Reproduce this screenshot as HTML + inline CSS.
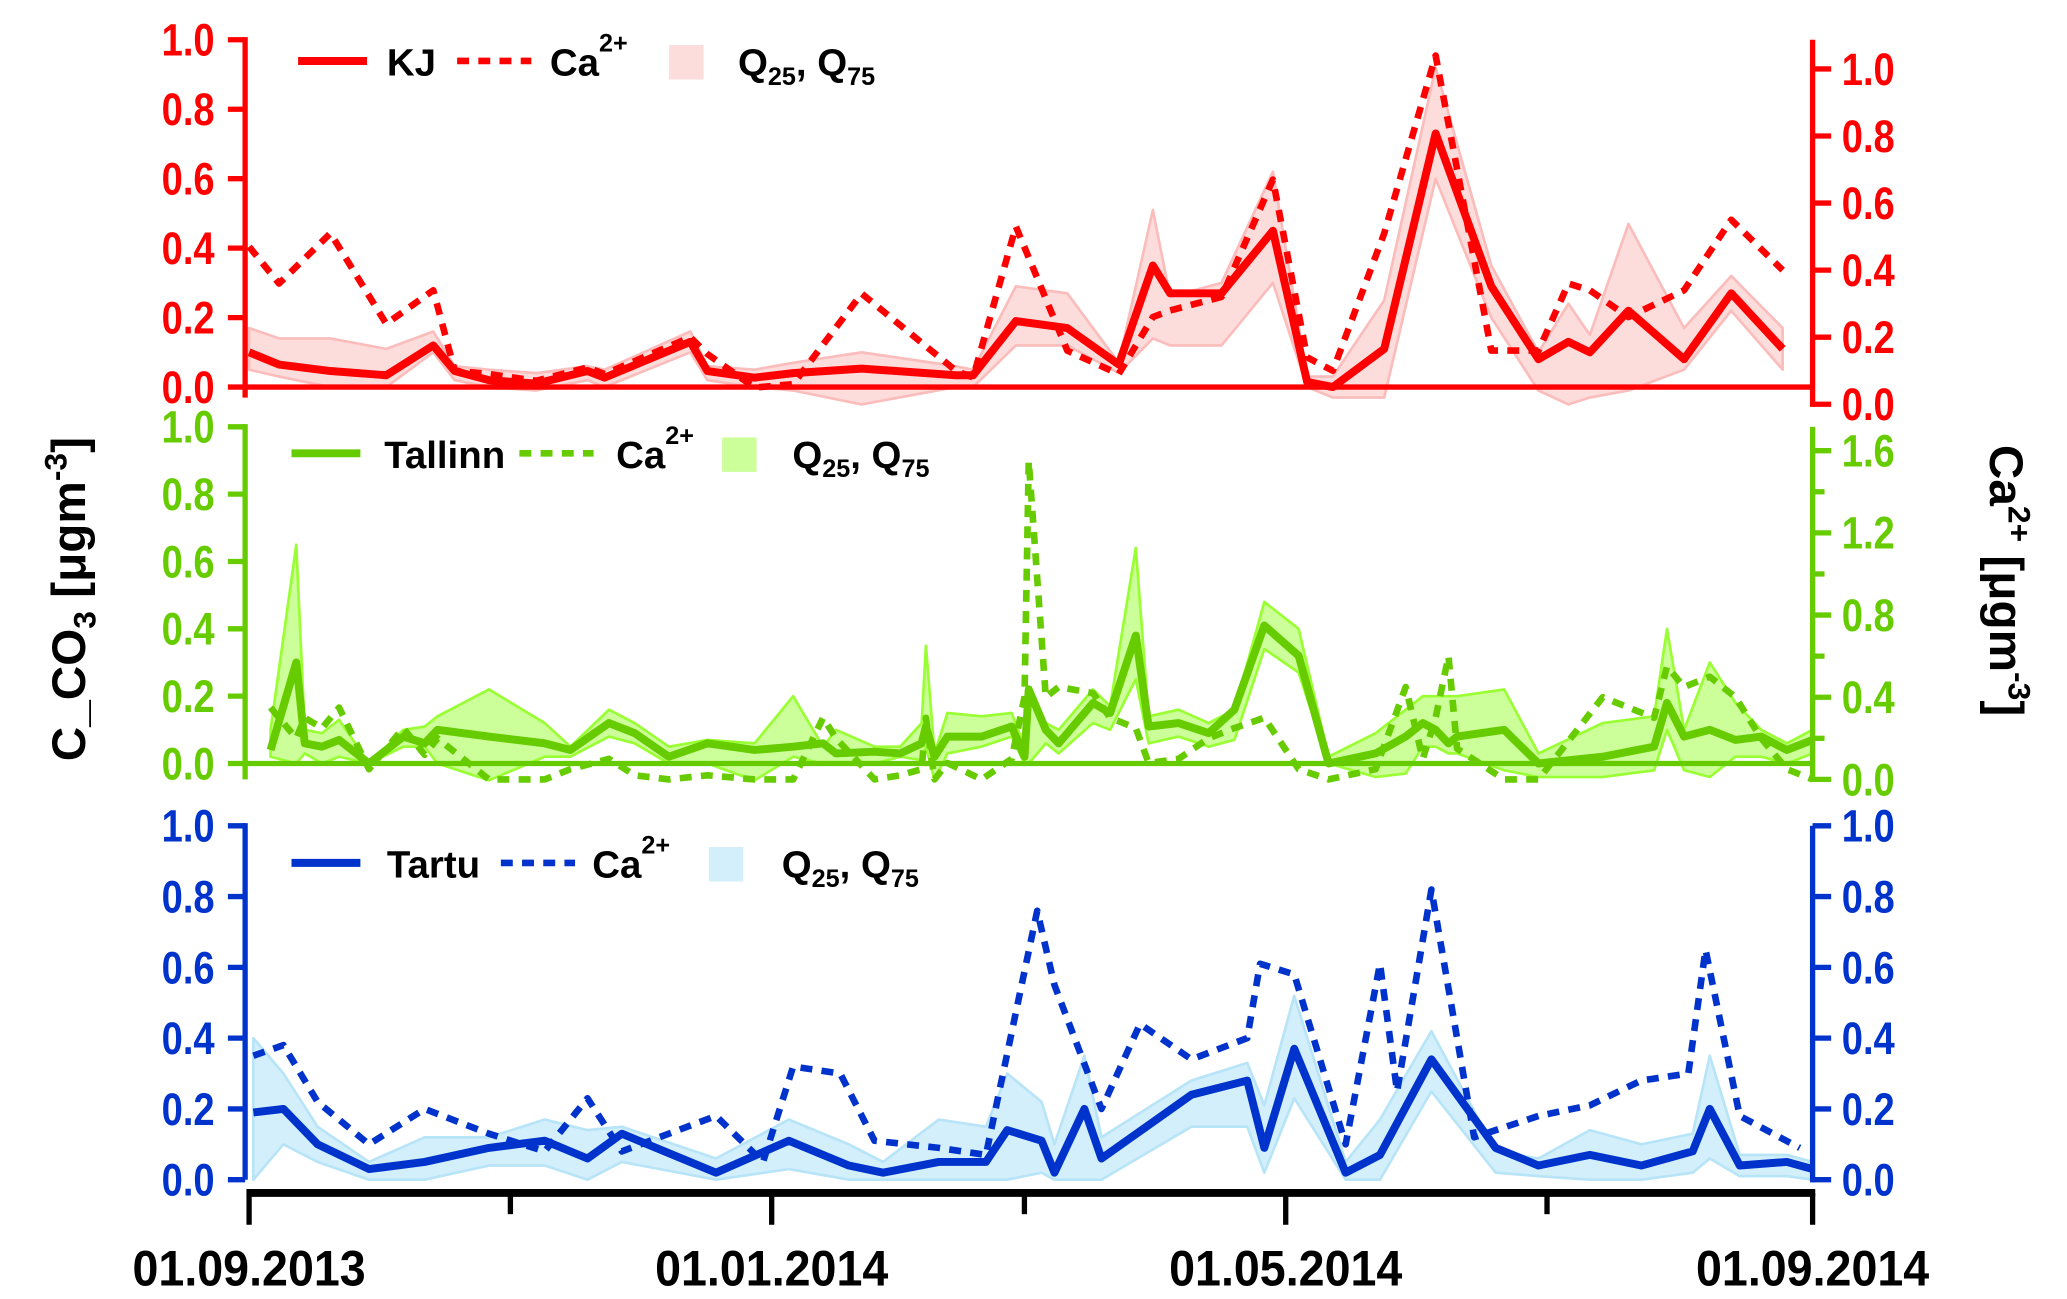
<!DOCTYPE html>
<html><head><meta charset="utf-8">
<style>
html,body{margin:0;padding:0;background:#fff;}
svg{display:block;}
text{font-family:"Liberation Sans Narrow","Liberation Sans",sans-serif;font-weight:bold;}
</style></head>
<body>
<svg id="chart" width="2067" height="1299" viewBox="0 0 1560 980" preserveAspectRatio="none" xmlns="http://www.w3.org/2000/svg"></svg>
<script>
// ---- data (x = days since 01.09.2013) ----
const kjDays = [0,7,19,32,43,48,56,67,79,83,103,107,118,127,143,165,169,179,191,203,211,215,227,239,247,253,265,277,290,301,308,313,322,335,346,358];
const kjC = [.10,.065,.046,.034,.12,.046,.02,.01,.046,.027,.13,.046,.027,.04,.053,.034,.034,.19,.17,.065,.35,.27,.27,.45,.015,0,.11,.73,.29,.08,.13,.10,.22,.08,.27,.11];
const kjCa = [.47,.36,.51,.24,.34,.10,.09,.07,.11,.09,.20,.15,.05,.06,.33,.10,.08,.53,.16,.09,.26,.28,.32,.67,.14,.10,.51,1.04,.16,.16,.36,.34,.26,.34,.55,.40];
const kjQ75 = [.17,.14,.14,.11,.16,.06,.05,.04,.06,.05,.16,.06,.05,.07,.10,.06,.05,.29,.27,.07,.51,.26,.30,.62,.03,.03,.25,.92,.35,.10,.24,.15,.47,.17,.32,.17];
const kjQ25 = [.05,.03,0,0,.10,.02,0,-.01,.02,0,.10,.02,0,-.01,-.05,0,0,.12,.12,.04,.14,.12,.12,.30,0,-.03,-.03,.60,.20,-.01,-.05,-.03,-.01,.05,.22,.05];

const taDays = [5,11,13,17,21,28,36,41,44,56,69,75,84,90,98,107,118,127,134,137,146,152,157,158,160,163,171,178,181,182,186,189,197,201,207,210,217,224,230,237,245,252,263,270,274,277,280,282,293,301,316,328,331,335,341,347,353,359,365];
const taC = [.04,.30,.06,.05,.07,0,.08,.06,.10,.08,.06,.04,.12,.09,.02,.06,.04,.05,.06,.03,.035,.03,.06,.11,.02,.08,.08,.11,.02,.22,.10,.06,.18,.15,.38,.11,.12,.09,.16,.41,.32,0,.03,.08,.12,.10,.06,.08,.10,0,.02,.05,.18,.08,.10,.07,.08,.04,.07];
const taCa = [.35,.2,.3,.25,.35,.05,.25,.12,.2,0,0,.05,.1,.02,0,.02,0,0,.3,.2,0,.02,.05,.3,0,.08,0,.1,.4,1.55,.4,.45,.42,.3,.25,.08,.1,.2,.25,.3,.05,0,.05,.45,.1,.3,.6,.15,0,0,.4,.3,.55,.45,.5,.4,.2,.05,0];
const taQ75 = [.1,.65,.1,.09,.13,0,.1,.11,.14,.22,.12,.05,.16,.12,.05,.07,.06,.2,.05,.1,.05,.05,.12,.35,.03,.15,.14,.15,.05,.2,.12,.1,.22,.17,.64,.14,.16,.12,.16,.48,.4,.02,.09,.16,.2,.2,.2,.2,.22,.03,.12,.14,.4,.1,.3,.18,.1,.06,.1];
const taQ25 = [.02,0,.03,0,.02,0,.05,.05,0,-.05,.02,.02,.08,.06,0,0,-.05,.02,0,0,0,.02,.01,.05,-.05,.03,.05,.08,0,0,.06,.03,.12,.1,.25,.06,.08,.05,.07,.34,.27,0,-.04,-.03,.05,.05,.03,.03,-.02,-.04,-.04,-.02,.1,-.02,-.04,.02,.02,0,.03];

const tuDays = [1,8,16,28,41,56,69,79,87,109,126,140,148,161,172,177,185,188,195,199,220,233,237,244,256,264,276,291,301,313,325,337,341,348,359,365];
const tuC = [.19,.20,.10,.03,.05,.09,.11,.06,.13,.02,.11,.04,.02,.05,.05,.14,.11,.02,.20,.06,.24,.28,.09,.37,.02,.07,.34,.09,.04,.07,.04,.08,.20,.04,.05,.03];
const tuQ75 = [.40,.30,.15,.05,.12,.12,.17,.14,.15,.06,.17,.10,.05,.17,.15,.30,.22,.10,.35,.12,.28,.33,.21,.52,.05,.17,.42,.08,.06,.14,.10,.13,.35,.07,.07,.05];
const tuQ25 = [0,.10,.05,0,0,.04,.04,0,.05,0,.03,0,0,0,0,0,.02,0,0,0,.15,.15,.02,.23,0,0,.25,.02,.01,0,0,.02,.06,.01,.01,0];
const tuCaDays = [1,8,16,28,41,56,69,79,87,109,120,127,138,146,161,172,184,188,199,208,220,233,236,244,256,264,268,276,286,301,313,325,336,340,348,362];
const tuCa = [.35,.38,.22,.10,.20,.13,.08,.23,.08,.18,.05,.32,.30,.11,.09,.07,.76,.55,.20,.44,.34,.40,.61,.58,.10,.61,.25,.82,.12,.18,.21,.28,.30,.65,.18,.09];

const xTickLabels = ["01.09.2013","01.01.2014","01.05.2014","01.09.2014"];
const xTickDays = [0,122,242,365];
const xMinorDays = [61,181,303];

// ---- helpers ----
const NS = "http://www.w3.org/2000/svg";
const svg = document.getElementById("chart");
const X0 = 188, X1 = 1368;
function xs(d){ return X0 + d/365*(X1-X0); }
function mk(tag, attrs, parent){
  const e = document.createElementNS(NS, tag);
  for (const k in attrs) e.setAttribute(k, attrs[k]);
  (parent||svg).appendChild(e);
  return e;
}
function lin(v0,p0,v1,p1){ return v => p0 + (v-v0)/(v1-v0)*(p1-p0); }
function pts(days, vals, ys){ return days.map((d,i)=>xs(d).toFixed(1)+","+ys(vals[i]).toFixed(1)).join(" "); }
function txt(x,y,s,attrs,parent){ const t = mk("text", Object.assign({x:x,y:y}, attrs||{}), parent); t.textContent = s; return t; }

function panel(cfg){
  const g = mk("g", {});
  
  
  const yl = lin(0, cfg.y0, 1, cfg.y1);
  const yr = lin(0, cfg.r0, cfg.rTop, cfg.r1);
  const band = mk("polygon", {points: pts(cfg.days, cfg.q75, yl) + " " + pts(cfg.days.slice().reverse(), cfg.q25.slice().reverse(), yl),
    fill: cfg.fill, stroke: cfg.edge, "stroke-width": 2, "stroke-linejoin":"round"}, g);
  
  
  if (cfg.zero) {
    const z = mk("line", {x1:185, x2:1368, y1:cfg.y0, y2:cfg.y0, stroke:cfg.color, "stroke-width":4}, g);
    
    
  }
  const ca = mk("polyline", {points: pts(cfg.caDays, cfg.ca, yr), fill:"none", stroke:cfg.color, "stroke-width":5, "stroke-dasharray":"9,7", "stroke-linejoin":"round"}, g);
  
  
  const s = mk("polyline", {points: pts(cfg.days, cfg.c, yl), fill:"none", stroke:cfg.color, "stroke-width":6, "stroke-linejoin":"round"}, g);
  
  
  const la = mk("line", {x1:185, x2:185, y1:cfg.y1-2, y2:cfg.yEnd, stroke:cfg.color, "stroke-width":4}, g);
  
  
  for (let i=0;i<=5;i++){
    const v = i*0.2, y = yl(v);
    mk("line", {x1:172, x2:185, y1:y, y2:y, stroke:cfg.color, "stroke-width":4}, g);
    const t = txt(122, y+12, v.toFixed(1), {fill:cfg.color, "font-size":34, textLength:40, lengthAdjust:"spacingAndGlyphs"}, g);
    
    
  }
  const ra = mk("line", {x1:1368, x2:1368, y1:cfg.raTop, y2:cfg.r0+2, stroke:cfg.color, "stroke-width":4}, g);
  
  
  for (let v=0; v<=cfg.rTop+1e-9; v+=cfg.rMinor){
    const y = yr(v);
    const major = Math.abs(v/cfg.rStep - Math.round(v/cfg.rStep)) < 1e-6;
    mk("line", {x1:1368, x2: major?1382:1377, y1:y, y2:y, stroke:cfg.color, "stroke-width":4}, g);
    if (major){
      const t = txt(1390, y+12, v.toFixed(1), {fill:cfg.color, "font-size":34, textLength:40, lengthAdjust:"spacingAndGlyphs"}, g);
      
      
    }
  }
  const L = cfg.leg, ly = cfg.legY;
  const lg = mk("g", {}, g);
  
  
  mk("line", {x1:L[0], x2:L[0]+52, y1:ly, y2:ly, stroke:cfg.color, "stroke-width":6}, lg);
  txt(L[1], ly+11, cfg.label, {"font-size":29, fill:"#000"}, lg);
  mk("line", {x1:L[2], x2:L[2]+56, y1:ly, y2:ly, stroke:cfg.color, "stroke-width":5, "stroke-dasharray":"9,7"}, lg);
  const ct = txt(L[3], ly+11, "Ca", {"font-size":29, fill:"#000"}, lg);
  const sp = mk("tspan", {dy:-18, "font-size":19}, ct); sp.textContent = "2+";
  mk("rect", {x:L[4], y:ly-12, width:26, height:26, fill:cfg.fill}, lg);
  const qt = txt(L[5], ly+11, "Q", {"font-size":29, fill:"#000"}, lg);
  let t1 = mk("tspan", {dy:7, "font-size":19}, qt); t1.textContent = "25";
  let t2 = mk("tspan", {dy:-7}, qt); t2.textContent = ", Q";
  let t3 = mk("tspan", {dy:7, "font-size":19}, qt); t3.textContent = "75";
}

panel({name:"kj", color:"#ff0000", fill:"#fddcdc", edge:"#fbbcbc", zero:true,
  y0:292, y1:30, yEnd:300, r0:305, r1:52, rTop:1.0, rStep:0.2, rMinor:0.2, raTop:30,
  days:kjDays, c:kjC, q75:kjQ75, q25:kjQ25, caDays:kjDays, ca:kjCa,
  label:"KJ", legY:46, leg:[225,292,345,415,505,557]});
panel({name:"tallinn", color:"#66cc00", fill:"#ccff99", edge:"#99ff33", zero:true,
  y0:576, y1:322, yEnd:588, r0:588, r1:340, rTop:1.6, rStep:0.4, rMinor:0.2, raTop:322,
  days:taDays, c:taC, q75:taQ75, q25:taQ25, caDays:taDays, ca:taCa,
  label:"Tallinn", legY:342, leg:[220,290,392,465,545,598]});
panel({name:"tartu", color:"#0033cc", fill:"#d4effc", edge:"#b8e4f8", zero:false,
  y0:890, y1:623, yEnd:890, r0:890, r1:623, rTop:1.0, rStep:0.2, rMinor:0.2, raTop:623,
  days:tuDays, c:tuC, q75:tuQ75, q25:tuQ25, caDays:tuCaDays, ca:tuCa,
  label:"Tartu", legY:651, leg:[220,292,378,447,535,590]});

const xa = mk("line", {x1:186, x2:1370, y1:900, y2:900, stroke:"#000", "stroke-width":6});


xTickDays.forEach((d,i)=>{
  const x = xs(d);
  mk("line", {x1:x, x2:x, y1:900, y2:924, stroke:"#000", "stroke-width":4});
  const t = txt(x-88, 970, xTickLabels[i], {"font-size":38, fill:"#000", textLength:176, lengthAdjust:"spacingAndGlyphs"});
  
  
});
xMinorDays.forEach(d=>{
  const x = xs(d);
  mk("line", {x1:x, x2:x, y1:900, y2:916, stroke:"#000", "stroke-width":4});
});

const lt = txt(0, 0, "C_CO", {"font-size":36, fill:"#000", "text-anchor":"middle", transform:"translate(64,452) rotate(-90)", "font-family":"Liberation Sans, sans-serif"});


let a = mk("tspan", {dy:8, "font-size":24}, lt); a.textContent = "3";
a = mk("tspan", {dy:-8}, lt); a.textContent = " [μgm";
a = mk("tspan", {dy:-14, "font-size":24}, lt); a.textContent = "-3";
a = mk("tspan", {dy:14}, lt); a.textContent = "]";

const rt = txt(0, 0, "Ca", {"font-size":36, fill:"#000", "text-anchor":"middle", transform:"translate(1502,438) rotate(90)", "font-family":"Liberation Sans, sans-serif"});


a = mk("tspan", {dy:-14, "font-size":24}, rt); a.textContent = "2+";
a = mk("tspan", {dy:14}, rt); a.textContent = " [μgm";
a = mk("tspan", {dy:-14, "font-size":24}, rt); a.textContent = "-3";
a = mk("tspan", {dy:14}, rt); a.textContent = "]";
</script>
</body></html>
